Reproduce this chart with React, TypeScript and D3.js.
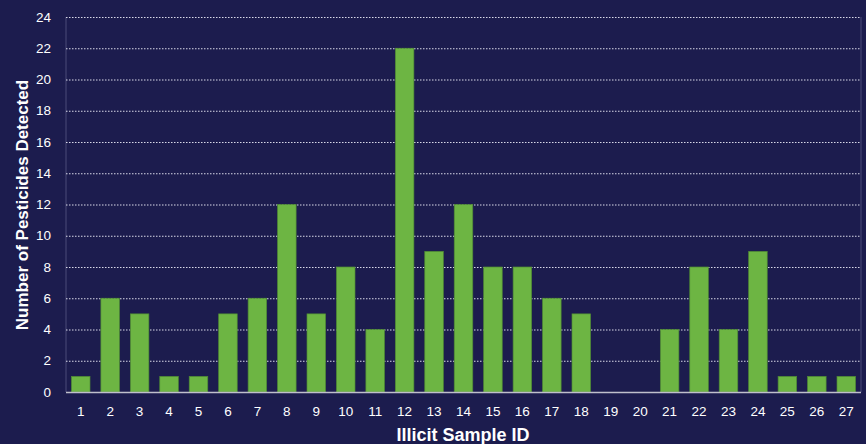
import React from "react";
import * as d3 from "d3";

const categories = ["1","2","3","4","5","6","7","8","9","10","11","12","13","14","15","16","17","18","19","20","21","22","23","24","25","26","27"];
const values = [1,6,5,1,1,5,6,12,5,8,4,22,9,12,8,8,6,5,0,0,4,8,4,9,1,1,1];
const yTicks = [0,2,4,6,8,10,12,14,16,18,20,22,24];
const xTitle = "Illicit Sample ID";
const yTitle = "Number of Pesticides Detected";

export default function App() {
  const W = 866, H = 444;
  const left = 66, right = 861, top = 17, bottom = 392;
  const x = d3.scaleBand<string>().domain(categories).range([left, right]).paddingInner(0.37).paddingOuter(0.185);
  const y = d3.scaleLinear().domain([0, 24]).range([bottom, top]);
  const font = "Arial, 'Liberation Sans', sans-serif";
  return (
    <svg width={W} height={H} style={{ position: "absolute", left: 0, top: 0, display: "block" }}>
      <rect x={0} y={0} width={W} height={H} fill="#1c1c4e" />
      <line x1={left} x2={left} y1={top} y2={bottom} stroke="#4a4a78" strokeWidth={1} />
      <line x1={right} x2={right} y1={top} y2={bottom} stroke="#4a4a78" strokeWidth={1} />
      {yTicks.filter(t => t > 0).map(t => (
        <line key={t} x1={left} x2={right} y1={y(t) + 0.5} y2={y(t) + 0.5} stroke="#d8d8e8" strokeWidth={1} strokeDasharray="1.5,1.5" />
      ))}
      {categories.map((c, i) => (
        <rect key={c} x={x(c)} y={y(values[i])} width={x.bandwidth()} height={bottom - y(values[i])} fill="#6db543" stroke="#4f8a34" strokeWidth={0.7} />
      ))}
      <line x1={left} x2={right} y1={bottom + 0.5} y2={bottom + 0.5} stroke="#bfbfcc" strokeWidth={1.5} />
      {yTicks.map(t => (
        <text key={t} x={51} y={y(t)} dy="0.35em" textAnchor="end" fill="#ffffff" fontSize={13.5} fontFamily={font}>{t}</text>
      ))}
      {categories.map(c => (
        <text key={c} x={(x(c) as number) + x.bandwidth() / 2} y={411} dy="0.35em" textAnchor="middle" fill="#ffffff" fontSize={13.5} fontFamily={font}>{c}</text>
      ))}
      <text x={463} y={441} textAnchor="middle" fill="#ffffff" fontSize={18} fontWeight="bold" fontFamily={font}>{xTitle}</text>
      <text transform={`translate(28, 205) rotate(-90)`} textAnchor="middle" fill="#ffffff" fontSize={17} fontWeight="bold" fontFamily={font}>{yTitle}</text>
    </svg>
  );
}
